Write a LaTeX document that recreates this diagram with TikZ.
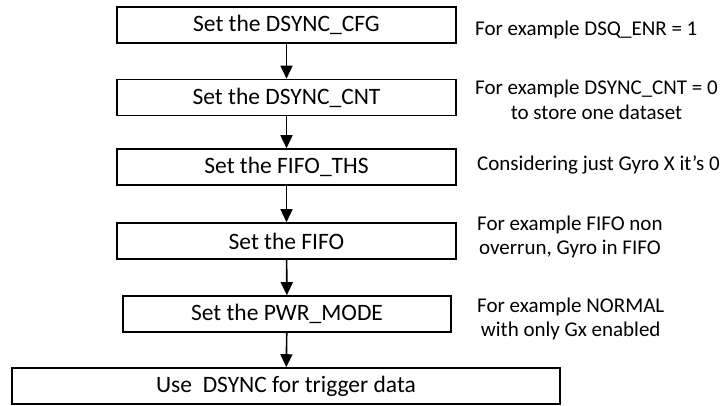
\documentclass[tikz,border=0pt]{standalone}
\usepackage{fontspec}
\setmainfont{Carlito}
\usetikzlibrary{arrows.meta}
\begin{document}
\begin{tikzpicture}[x=1pt,y=-1pt,
    stepbox/.style={draw, line width=1.6pt, minimum width=339pt, minimum height=36pt,
        inner sep=0pt, font=\fontsize{23.5}{27}\selectfont},
    note/.style={anchor=west, align=center, inner sep=0pt,
        font=\fontsize{21}{24.5}\selectfont},
    flow/.style={-{Triangle[length=13pt,width=12pt]}, line width=1.6pt}]
    \useasboundingbox (0,0) rectangle (727,405);
    % steps
    \node[stepbox] (cfg)  at (286.5,25)  {Set the DSYNC\_CFG};
    \node[stepbox] (cnt)  at (286.5,97.5) {Set the DSYNC\_CNT};
    \node[stepbox] (ths)  at (286.5,167) {Set the FIFO\_THS};
    \node[stepbox] (fifo) at (286.5,241) {Set the FIFO};
    \node[stepbox, minimum width=328pt] (pwr) at (287,314) {Set the PWR\_MODE};
    \node[stepbox, minimum width=548pt] (use) at (286,386) {Use~ DSYNC for trigger data};
    \draw[flow] (cfg) -- (cnt);
    \draw[flow] (cnt) -- (ths);
    \draw[flow] (ths) -- (fifo);
    \draw[flow] (fifo) -- (pwr);
    \draw[flow] (pwr) -- (use);
    % notes
    \node[note] (n1) at (475,30)  {For example DSQ\_ENR = 1};
    \node[note] (n2) at (475,100) {For example DSYNC\_CNT = 0\\to store one dataset};
    \node[note] (n3) at (477,165) {Considering just Gyro X it’s 0};
    \node[note] (n4) at (477,237) {For example FIFO non\\overrun, Gyro in FIFO};
    \node[note] (n5) at (477,319) {For example NORMAL\\with only Gx enabled};
\end{tikzpicture}
\end{document}
